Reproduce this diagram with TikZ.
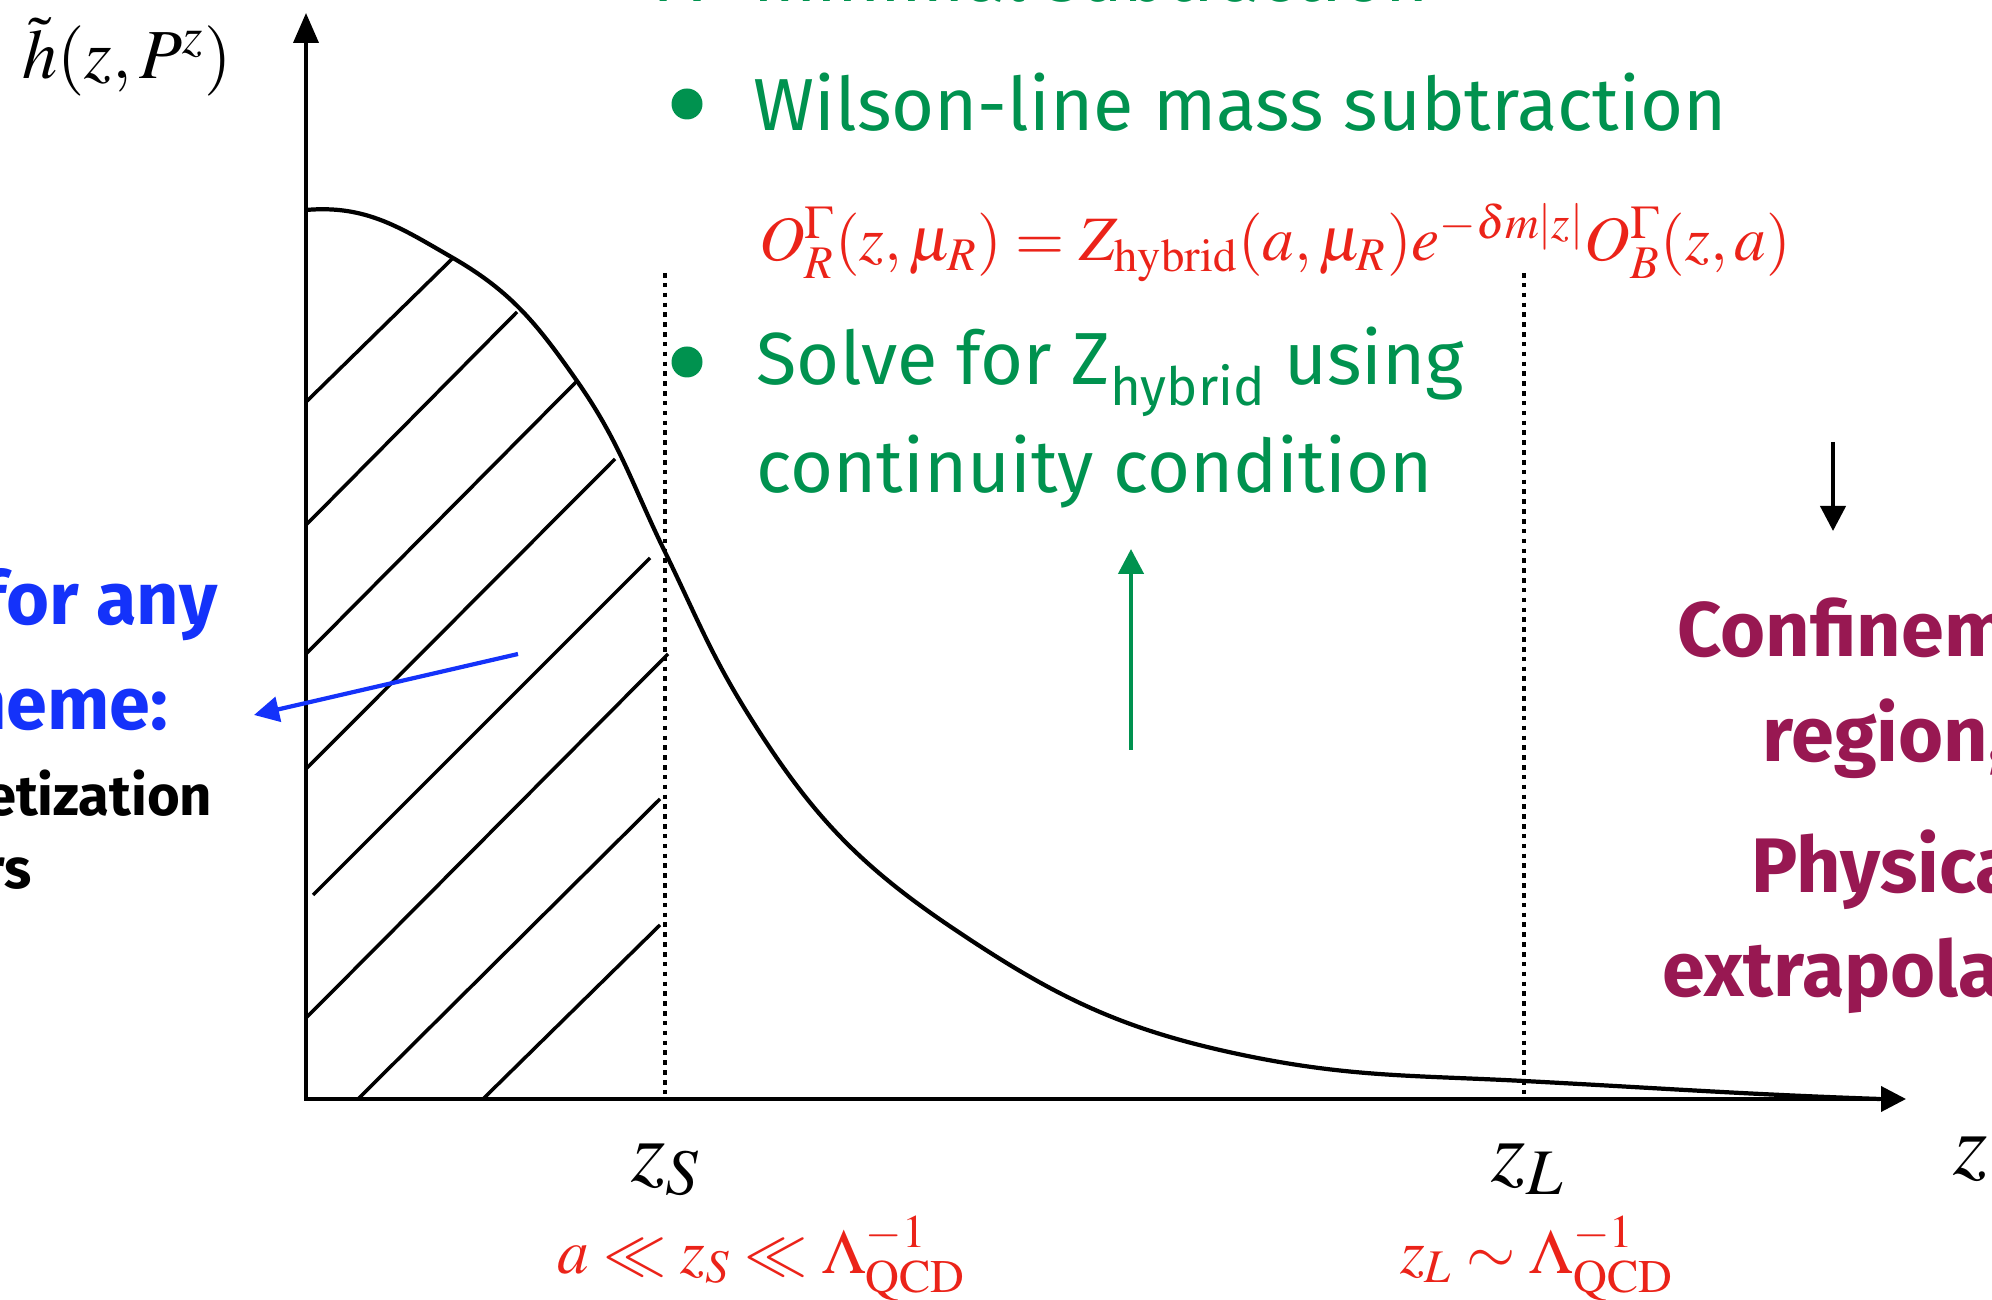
\documentclass[tikz,border=0pt]{standalone}
\usepackage{mathptmx}
\usepackage{fontspec}
\setmainfont{Liberation Serif}
\newfontfamily\comic{Fira Sans}
\usepackage{xcolor}
\usetikzlibrary{arrows.meta,positioning}

\definecolor{slidegreen}{RGB}{0,146,79}
\definecolor{slidered}{RGB}{235,35,25}
\definecolor{slideblue}{RGB}{20,50,250}
\definecolor{slideplum}{RGB}{152,24,82}

\begin{document}
\begin{tikzpicture}[
  font=\comic,
  axis/.style={line width=1.1pt, {Triangle[length=3mm,width=2.5mm]}-{Triangle[length=2.5mm,width=2.5mm]}},
  curve/.style={line width=1.2pt, line join=round},
  hatch/.style={line width=1pt},
  guide/.style={line width=1.3pt, dash pattern=on 1.3pt off 1.5pt},
  item/.style={anchor=base west, text=slidegreen, inner sep=0pt,
               font=\comic\fontsize{21}{25}\selectfont},
  dot/.style={circle, fill=slidegreen, inner sep=0pt, minimum size=0.31cm},
  region/.style={anchor=base west, text=slideplum, inner sep=0pt,
                 font=\comic\bfseries\fontsize{22}{26}\selectfont},
  side/.style={anchor=base east, inner sep=0pt,
               font=\comic\bfseries\fontsize{21}{25}\selectfont},
  axlabel/.style={anchor=base, inner sep=0pt, font=\fontsize{25}{30}\selectfont},
  formula/.style={anchor=base, inner sep=0pt, text=slidered, font=\fontsize{18}{22}\selectfont},
  pointer/.style={line width=1.2pt, -{Triangle[length=2.5mm,width=2.5mm]}}
]
\useasboundingbox (0,0) rectangle (19.92,12.99);

% axes
\coordinate (ytip) at (3.06,12.86);
\coordinate (origin) at (3.06,2.00);
\coordinate (xtip) at (19.06,2.00);
\draw[axis] (ytip) -- (origin) -- (xtip);
\node[axlabel, font=\fontsize{20}{24}\selectfont] (hlab) at (1.27,12.20) {$\tilde{h}(z,P^z)$};
\node[axlabel, anchor=base west] (zlab) at (19.53,1.24) {$z$};

% the matrix element
\draw[curve] (3.06,10.89) to[out=5,in=150] (4.53,10.41)
  to[out=-30,in=125] (5.77,9.18)
  to[out=-55,in=116] (6.65,7.47)
  to[out=-64,in=122] (7.48,5.85)
  to[out=-58,in=146] (9.51,3.72)
  to[out=-34,in=168] (12.38,2.45)
  to[out=-12,in=177] (15.24,2.18)
  to[out=-3,in=178] (18.80,2.00);

% short distance region
\draw[hatch] (3.06,8.97) -- (4.53,10.41);
\draw[hatch] (3.06,7.74) -- (5.17,9.87);
\draw[hatch] (3.06,6.45) -- (5.77,9.18);
\draw[hatch] (3.06,5.30) -- (6.15,8.40);
\draw[hatch] (3.13,4.04) -- (6.50,7.41);
\draw[hatch] (3.06,2.81) -- (6.68,6.45);
\draw[hatch] (3.58,2.00) -- (6.60,5.00);
\draw[hatch] (4.83,2.00) -- (6.60,3.74);

% z_S and z_L
\coordinate (zstop) at (6.65,10.26);
\coordinate (zsbot) at (6.65,2.00);
\coordinate (zltop) at (15.24,10.26);
\coordinate (zlbot) at (15.24,2.00);
\draw[guide] (zstop) -- (zsbot);
\draw[guide] (zltop) -- (zlbot);
\node[axlabel] (zs) at (6.66,1.18) {$z_S$};
\node[axlabel] (zl) at (15.28,1.18) {$z_L$};
\node[formula] (zsrange) at (7.62,0.26) {$a\ll z_S\ll\Lambda^{-1}_{\mathrm{QCD}}$};
\node[formula] (zlrange) at (15.37,0.26) {$z_L\sim\Lambda^{-1}_{\mathrm{QCD}}$};

% hybrid scheme
\node[item] (minsub) at (6.59,12.97) {\makebox[0.94cm][l]{A}minimal subtraction};
\node[dot] (b1) at (6.87,11.95) {};
\node[item] (wilson) at (7.53,11.68) {Wilson-line mass subtraction};
\node[formula] (renorm) at (12.75,10.38)
  {$O^{\Gamma}_{R}(z,\mu_R)=Z_{\mathrm{hybrid}}(a,\mu_R)e^{-\delta m|z|}O^{\Gamma}_{B}(z,a)$};
\node[dot] (b2) at (6.87,9.37) {};
\node[item] (solve) at (7.56,9.14)
  {Solve for Z\raisebox{-0.28em}{\fontsize{15}{17}\selectfont hybrid} using};
\node[item] (contin) at (7.56,8.06) {continuity condition};
\coordinate (gfoot) at (11.31,5.49);
\coordinate (ghead) at (11.31,7.50);
\draw[pointer, slidegreen, line width=1.3pt] (gfoot) -- (ghead);

% left notes
\node[side, text=slideblue] (forany) at (2.18,6.74) {for any};
\node[side, text=slideblue] (scheme) at (1.69,5.69) {scheme:};
\node[side, font=\comic\bfseries\fontsize{16}{20}\selectfont] (discr) at (2.13,4.83) {discretization};
\node[side, font=\comic\bfseries\fontsize{16}{20}\selectfont] (errs) at (0.32,4.10) {errors};
\coordinate (bfoot) at (5.18,6.45);
\coordinate (bhead) at (2.54,5.84);
\draw[pointer, slideblue] (bfoot) -- (bhead);

% right notes
\coordinate (kfoot) at (18.33,8.57);
\coordinate (khead) at (18.33,7.68);
\draw[pointer] (kfoot) -- (khead);
\node[region] (confine) at (16.77,6.42) {Confinement};
\node[region] (regn) at (17.62,5.37) {region,};
\node[region] (phys) at (17.51,4.06) {Physical};
\node[region] (extra) at (16.62,3.02) {extrapolation};
\end{tikzpicture}
\end{document}
